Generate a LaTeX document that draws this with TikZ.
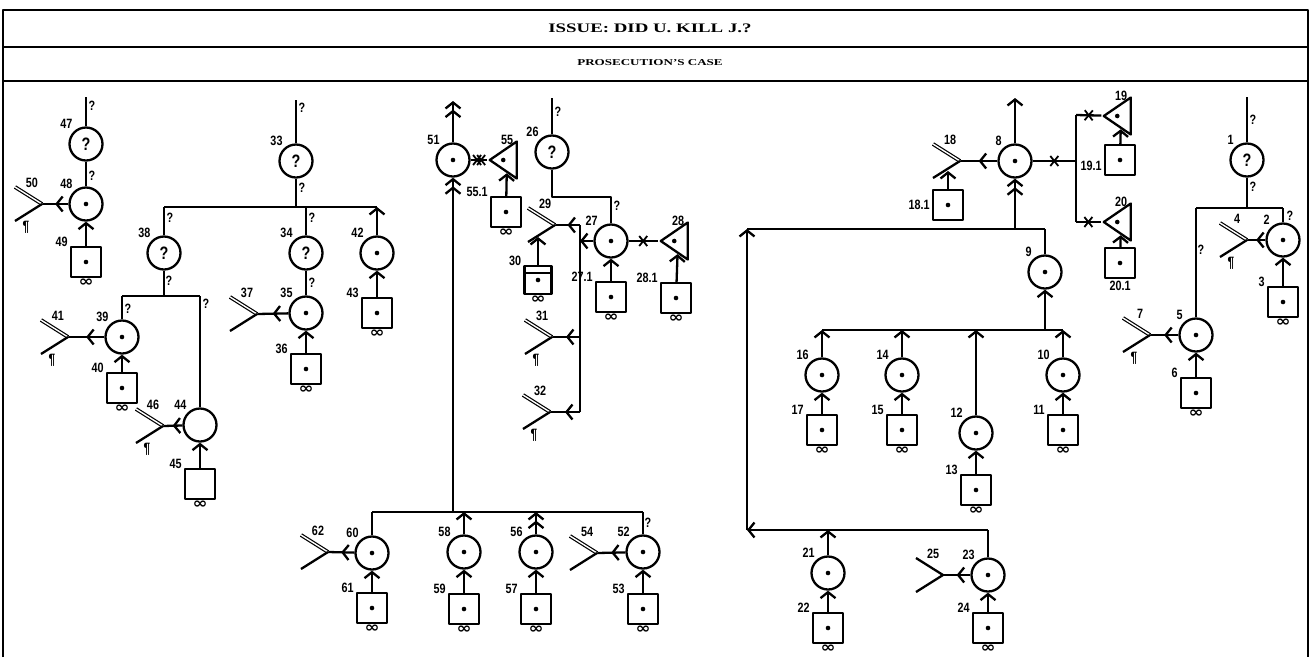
\documentclass[tikz,border=0pt]{standalone}
\usepackage{fontspec}
\setmainfont{Liberation Serif}
\newfontfamily\lblfont[FakeStretch=0.8]{Liberation Sans}
\newfontfamily\headfont[FakeStretch=1.45]{Liberation Serif}
\newfontfamily\inffont[FakeStretch=1.2]{DejaVu Sans}
\usetikzlibrary{calc, positioning}
\usetikzlibrary{arrows.meta}
\usetikzlibrary{shapes.geometric}
\usetikzlibrary{decorations.markings}

\tikzset{
  chev/.tip={Straight Barb[length=6pt,width=15pt]},
  dchev/.tip={Straight Barb[length=6pt,width=15pt] Straight Barb[length=6pt,width=15pt]},
  lbl/.style={font=\lblfont\bfseries\fontsize{13.5}{13.5}\selectfont, inner sep=1pt},
  qm/.style={lbl},
  inf/.style={font=\inffont\bfseries\fontsize{15}{15}\selectfont, inner sep=0pt},
  head/.style={font=\headfont\bfseries\fontsize{13}{13}\selectfont},
  subhead/.style={font=\headfont\bfseries\fontsize{9}{9}\selectfont},
  dot/.style={path picture={\fill (path picture bounding box.center) circle (2.3pt);}},
  circ/.style={circle, draw, minimum size=33pt, inner sep=0pt},
  evid/.style={circ, dot, label={[lbl]130:#1}},
  query/.style={circ, font=\lblfont\bfseries\fontsize{18}{18}\selectfont, label={[lbl]130:#1}},
  fact/.style={circ, label={[lbl]130:#1}},
  sq/.style={rectangle, draw, minimum size=30pt, inner sep=0pt},
  doc/.style={sq, dot, label={[lbl]140:#1}, label={[inf]below:∞}},
  docx/.style={sq, label={[lbl]140:#1}, label={[inf]below:∞}},
  docn/.style={sq, dot, label={#1}},
  note/.style={sq, minimum width=27pt, minimum height=28pt, label={[lbl]140:#1},
    label={[inf]below:∞},
    path picture={\fill (path picture bounding box.center) circle (2.3pt);
      \draw[line width=1.5pt] ([yshift=-7pt]path picture bounding box.north west)
        -- ([yshift=-7pt]path picture bounding box.north east);}},
  tri/.style={isosceles triangle, shape border rotate=180, isosceles triangle stretches,
    draw, minimum width=37pt, minimum height=27pt, inner sep=0pt, dot, label={[lbl]above:#1}},
  dbl/.style={double, double distance=1.4pt, line width=1.2pt},
  mid/.style={decoration={markings, mark=at position 0.5 with {\arrow{chev}}}, postaction={decorate}},
  x1/.style={decoration={markings, mark=at position 0.5 with
    {\draw[line width=1.8pt] (-4pt,-5pt) -- (4pt,5pt) (-4pt,5pt) -- (4pt,-5pt);}}, postaction={decorate}},
  xx/.style={decoration={markings,
    mark=at position 0.4 with {\draw[line width=1.8pt] (-4pt,-5pt) -- (4pt,5pt) (-4pt,5pt) -- (4pt,-5pt);},
    mark=at position 0.65 with {\draw[line width=1.8pt] (-4pt,-5pt) -- (4pt,5pt) (-4pt,5pt) -- (4pt,-5pt);}},
    postaction={decorate}},
  pics/conv/.style={code={\draw (0,0) -- (-27,-17) (0,0) -- (-27,17);
    \node[lbl] (-n) at (-10,-21) {#1};}},
  pics/convd/.style={code={\draw[dbl] (0,0) -- (-27,-17); \draw (0,0) -- (-27,17);
    \node[lbl] (-n) at (-10,-21) {#1};}},
  pics/convp/.style={code={\draw[dbl] (0,0) -- (-27,-17); \draw (0,0) -- (-27,17);
    \node[lbl] (-n) at (-10,-21) {#1};
    \node[lbl, font=\lblfont\bfseries\fontsize{15}{15}\selectfont] (-p) at (-16,23) {\P};}},
}

\begin{document}
\begin{tikzpicture}[x=1pt, y=-1pt, line width=2.3pt, line join=round]
  \useasboundingbox (0,0) rectangle (1311,657);

  % frame and headings
  \draw[line width=2.6pt] (3,657) -- (3,10) -- (1308,10) -- (1308,657);
  \draw (3,47) -- (1308,47);
  \draw (3,81) -- (1308,81);
  \node[head] (issue) at (650,28) {ISSUE: DID U. KILL J.?};
  \node[subhead] (case) at (650,63) {PROSECUTION’S CASE};

  % 47 - 50
  \node[query=47] (c47) at (86,144) {?};
  \node[evid=48] (c48) at (86,204) {};
  \node[doc=49] (s49) at (86,262) {};
  \coordinate (t47) at (86,97);
  \coordinate (y50) at (42,204);
  \draw (t47) -- (c47) -- (c48);
  \draw[-chev] (s49) -- (c48);
  \draw[mid] (c48) -- (y50);
  \pic (p50) at (y50) {convp=50};

  % 33 - 46
  \node[query=33] (c33) at (296,161) {?};
  \coordinate (t33) at (296,100);
  \coordinate (b33) at (296,207);
  \coordinate (b38) at (164,207);
  \coordinate (b34) at (306,207);
  \coordinate (b42) at (377,207);
  \draw (t33) -- (c33) -- (b33);
  \draw (b38) -- (b42);
  \node[query=38] (c38) at (164,253) {?};
  \node[query=34] (c34) at (306,253) {?};
  \node[evid=42] (c42) at (377,253) {};
  \node[doc=43] (s43) at (377,313) {};
  \draw (b38) -- (c38);
  \draw (b34) -- (c34);
  \draw[-chev] (c42) -- (b42);
  \draw[-chev] (s43) -- (c42);

  \node[evid=35] (c35) at (306,313) {};
  \node[doc=36] (s36) at (306,369) {};
  \coordinate (y37) at (257,314);
  \draw (c34) -- (c35);
  \draw[-chev] (s36) -- (c35);
  \draw[mid] (c35) -- (y37);
  \pic (p37) at (y37) {convd=37};

  \coordinate (b38d) at (164,296);
  \coordinate (b39) at (122,296);
  \coordinate (b44) at (200,296);
  \draw (c38) -- (b38d);
  \draw (b39) -- (b44);
  \node[evid=39] (c39) at (122,337) {};
  \node[doc=40] (s40) at (122,388) {};
  \coordinate (y41) at (68,337);
  \draw (b39) -- (c39);
  \draw[-chev] (s40) -- (c39);
  \draw[mid] (c39) -- (y41);
  \pic (p41) at (y41) {convp=41};
  \node[fact=44] (c44) at (200,425) {};
  \node[docx=45] (s45) at (200,484) {};
  \coordinate (y46) at (163,426);
  \draw (b44) -- (c44);
  \draw[-chev] (s45) -- (c44);
  \draw[mid] (c44) -- (y46);
  \pic (p46) at (y46) {convp=46};

  % 51 - 62
  \node[evid=51] (c51) at (453,160) {};
  \coordinate (t51) at (453,101);
  \node[tri=55] (t55) at (507,160) {};
  \node[doc=55.1] (s551) at (506,212) {};
  \draw[-dchev] (c51) -- (t51);
  \draw[xx] (c51) -- (t55);
  \draw[-chev] (s551) -- (t55);

  \coordinate (b60) at (372,512);
  \coordinate (b51) at (453,512);
  \coordinate (b58) at (464,512);
  \coordinate (b56) at (536,512);
  \coordinate (b52) at (643,512);
  \draw (b60) -- (b52);
  \draw[-dchev] (b51) -- (c51);
  \node[evid=60] (c60) at (372,553) {};
  \node[doc=61] (s61) at (372,608) {};
  \coordinate (y62) at (328,552);
  \draw (b60) -- (c60);
  \draw[-chev] (s61) -- (c60);
  \draw[mid] (c60) -- (y62);
  \pic (p62) at (y62) {convd=62};
  \node[evid=58] (c58) at (464,552) {};
  \node[doc=59] (s59) at (464,609) {};
  \draw[-chev] (c58) -- (b58);
  \draw[-chev] (s59) -- (c58);
  \node[evid=56] (c56) at (536,552) {};
  \node[doc=57] (s57) at (536,609) {};
  \draw[-dchev] (c56) -- (b56);
  \draw[-chev] (s57) -- (c56);
  \node[evid=52] (c52) at (643,552) {};
  \node[doc=53] (s53) at (643,609) {};
  \coordinate (y54) at (597,553);
  \draw (b52) -- (c52);
  \draw[-chev] (s53) -- (c52);
  \draw[mid] (c52) -- (y54);
  \pic (p54) at (y54) {convd=54};

  % 26 - 32
  \node[query=26] (c26) at (552,152) {?};
  \coordinate (t26) at (552,98);
  \coordinate (k26) at (552,197);
  \coordinate (k27) at (611,197);
  \node[evid=27] (c27) at (611,241) {};
  \node[doc=27.1] (s271) at (611,297) {};
  \node[tri=28] (t28) at (678,241) {};
  \node[doc=28.1] (s281) at (676,298) {};
  \draw (t26) -- (c26) -- (k26) -- (k27) -- (c27);
  \draw[-chev] (s271) -- (c27);
  \draw[x1] (c27) -- (t28);
  \draw[-chev] (s281) -- (t28);
  \coordinate (v29) at (580,225);
  \coordinate (v27) at (580,241);
  \coordinate (v31) at (580,337);
  \coordinate (v32) at (580,412);
  \draw[-chev] (c27) -- (v27);
  \draw (v29) -- (v32);
  \coordinate (y29) at (555,225);
  \coordinate (y31) at (552,337);
  \coordinate (y32) at (550,412);
  \draw[mid] (v29) -- (y29);
  \draw[mid] (v31) -- (y31);
  \draw[mid] (v32) -- (y32);
  \pic (p29) at (y29) {convd=29};
  \pic (p31) at (y31) {convp=31};
  \pic (p32) at (y32) {convp=32};
  \node[note=30] (s30) at (538,280) {};
  \coordinate (a29) at (538,237);
  \draw[-chev] (s30) -- (a29);

  % 8 - 25
  \node[evid=8] (c8) at (1015,161) {};
  \coordinate (t8) at (1015,98);
  \draw[-chev] (c8) -- (t8);
  \coordinate (y18) at (960,161);
  \draw[mid] (c8) -- (y18);
  \pic (p18) at (y18) {convd=18};
  \node[docn={[lbl]left:18.1}] (s181) at (948,205) {};
  \coordinate (a18) at (948,171);
  \draw[-chev] (s181) -- (a18);
  \coordinate (k8) at (1015,229);
  \coordinate (k9) at (1045,229);
  \coordinate (kl) at (747,229);
  \coordinate (kb) at (747,530);
  \draw[-dchev] (k8) -- (c8);
  \draw (kl) -- (k9);
  \draw[-chev] (kb) -- (kl);
  \node[evid=9] (c9) at (1045,272) {};
  \coordinate (b9) at (1045,330);
  \draw (k9) -- (c9);
  \draw[-chev] (b9) -- (c9);

  \coordinate (x8) at (1076,161);
  \coordinate (x19) at (1076,115);
  \coordinate (x20) at (1076,222);
  \draw[x1] (c8) -- (x8);
  \draw (x19) -- (x20);
  \node[tri=19] (t19) at (1121,116) {};
  \node[tri=20] (t20) at (1121,222) {};
  \draw[x1] (x19) -- (t19);
  \draw[x1] (x20) -- (t20);
  \node[docn={[lbl, yshift=-6pt]left:19.1}] (s191) at (1120,160) {};
  \node[docn={[lbl]below:20.1}] (s201) at (1120,263) {};
  \draw[-chev] (s191) -- (t19);
  \draw[-chev] (s201) -- (t20);

  \coordinate (b16) at (822,330);
  \coordinate (b14) at (902,330);
  \coordinate (b12) at (976,330);
  \coordinate (b10) at (1063,330);
  \draw (b16) -- (b10);
  \node[evid=16] (c16) at (822,375) {};
  \node[doc=17] (s17) at (822,430) {};
  \node[evid=14] (c14) at (902,375) {};
  \node[doc=15] (s15) at (902,430) {};
  \node[evid=12] (c12) at (976,433) {};
  \node[doc=13] (s13) at (976,490) {};
  \node[evid=10] (c10) at (1063,375) {};
  \node[doc=11] (s11) at (1063,430) {};
  \draw[-chev] (c16) -- (b16);
  \draw[-chev] (s17) -- (c16);
  \draw[-chev] (c14) -- (b14);
  \draw[-chev] (s15) -- (c14);
  \draw[-chev] (c12) -- (b12);
  \draw[-chev] (s13) -- (c12);
  \draw[-chev] (c10) -- (b10);
  \draw[-chev] (s11) -- (c10);

  \coordinate (b21) at (828,530);
  \coordinate (b23) at (988,530);
  \draw[-chev] (b23) -- (kb);
  \node[evid=21] (c21) at (828,573) {};
  \node[doc=22] (s22) at (828,628) {};
  \node[evid=23] (c23) at (988,575) {};
  \node[doc=24] (s24) at (988,628) {};
  \coordinate (y25) at (943,575);
  \draw[-chev] (c21) -- (b21);
  \draw[-chev] (s22) -- (c21);
  \draw (b23) -- (c23);
  \draw[-chev] (s24) -- (c23);
  \draw[mid] (c23) -- (y25);
  \pic (p25) at (y25) {conv=25};

  % 1 - 7
  \node[query=1] (c1) at (1247,160) {?};
  \coordinate (t1) at (1247,97);
  \coordinate (b1) at (1247,208);
  \coordinate (b2) at (1283,208);
  \coordinate (b5) at (1196,208);
  \draw (t1) -- (c1) -- (b1);
  \draw (b5) -- (b2);
  \node[evid=2] (c2) at (1283,240) {};
  \node[doc=3] (s3) at (1283,302) {};
  \coordinate (y4) at (1247,240);
  \draw (b2) -- (c2);
  \draw[-chev] (s3) -- (c2);
  \draw[mid] (c2) -- (y4);
  \pic (p4) at (y4) {convp=4};
  \node[evid=5] (c5) at (1196,335) {};
  \node[doc=6] (s6) at (1196,393) {};
  \coordinate (y7) at (1150,335);
  \draw (b5) -- (c5);
  \draw[-chev] (s6) -- (c5);
  \draw[mid] (c5) -- (y7);
  \pic (p7) at (y7) {convp=7};

  % question marks on the lines
  \foreach \p [count=\i] in {(92,106), (92,176), (302,108), (302,188), (170,218),
      (169,281), (128,309), (206,304), (312,218), (312,283), (558,112), (617,206),
      (648,523), (1253,120), (1253,187), (1290,216), (1201,250)}
    \node[qm] (q\i) at \p {?};
\end{tikzpicture}
\end{document}
